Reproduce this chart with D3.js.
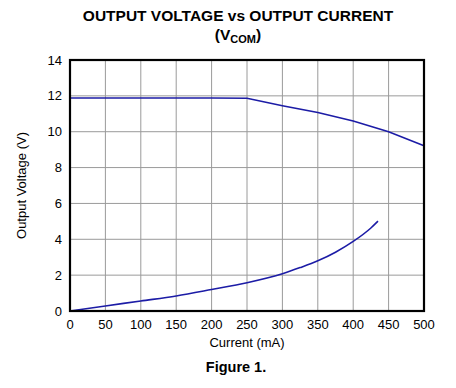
<!DOCTYPE html>
<html>
<head>
<meta charset="utf-8">
<script src="https://cdn.jsdelivr.net/npm/d3@7"></script>
<style>
  body { margin: 0; background: #fff; }
  text { font-family: "Liberation Sans", Arial, sans-serif; }
</style>
</head>
<body>
<svg width="456" height="388"></svg>
<script>
// current (mA) and output voltage (V)
var upperCurrent = [0, 50, 100, 150, 200, 250, 300, 350, 400, 450, 500];
var upperVoltage = [11.88, 11.88, 11.88, 11.88, 11.88, 11.87, 11.45, 11.07, 10.6, 10.0, 9.22];
var lowerCurrent = [0, 50, 100, 150, 200, 250, 300, 325, 350, 375, 400, 425, 435];
var lowerVoltage = [0, 0.28, 0.56, 0.84, 1.2, 1.58, 2.08, 2.42, 2.8, 3.28, 3.88, 4.63, 5.01];
var xTicks = [0, 50, 100, 150, 200, 250, 300, 350, 400, 450, 500];
var yTicks = [0, 2, 4, 6, 8, 10, 12, 14];

(function () {
    var svg = d3.select("svg");
    var plotLeft = 70, plotRight = 424, plotTop = 60, plotBottom = 311;

    var x = d3.scaleLinear().domain([0, 500]).range([plotLeft, plotRight]);
    var y = d3.scaleLinear().domain([0, 14]).range([plotBottom, plotTop]);

    // grid
    svg.selectAll(".vgrid").data(xTicks).enter().append("line")
        .attr("x1", function (d) { return x(d); })
        .attr("x2", function (d) { return x(d); })
        .attr("y1", plotTop).attr("y2", plotBottom)
        .attr("stroke", "#9a9a9a").attr("stroke-width", 1);
    svg.selectAll(".hgrid").data(yTicks).enter().append("line")
        .attr("y1", function (d) { return y(d); })
        .attr("y2", function (d) { return y(d); })
        .attr("x1", plotLeft).attr("x2", plotRight)
        .attr("stroke", "#9a9a9a").attr("stroke-width", 1);

    // curves
    var upperLine = d3.line()
        .x(function (d) { return x(d[0]); })
        .y(function (d) { return y(d[1]); });
    var lowerLine = d3.line()
        .x(function (d) { return x(d[0]); })
        .y(function (d) { return y(d[1]); })
        .curve(d3.curveMonotoneX);

    svg.append("path")
        .datum(d3.zip(upperCurrent, upperVoltage))
        .attr("d", upperLine)
        .attr("fill", "none").attr("stroke", "#1c1ca6").attr("stroke-width", 1.6);
    svg.append("path")
        .datum(d3.zip(lowerCurrent, lowerVoltage))
        .attr("d", lowerLine)
        .attr("fill", "none").attr("stroke", "#1c1ca6").attr("stroke-width", 1.6);

    // frame
    svg.append("rect")
        .attr("x", plotLeft).attr("y", plotTop)
        .attr("width", plotRight - plotLeft).attr("height", plotBottom - plotTop)
        .attr("fill", "none").attr("stroke", "#000").attr("stroke-width", 2.2);

    // tick labels
    svg.selectAll(".xl").data(xTicks).enter().append("text")
        .attr("x", function (d) { return x(d); })
        .attr("y", 329)
        .attr("text-anchor", "middle")
        .attr("font-size", 13)
        .text(function (d) { return d; });
    svg.selectAll(".yl").data(yTicks).enter().append("text")
        .attr("x", 62)
        .attr("y", function (d) { return y(d) + 4.5; })
        .attr("text-anchor", "end")
        .attr("font-size", 13)
        .text(function (d) { return d; });

    // axis titles
    svg.append("text")
        .attr("x", 247).attr("y", 347)
        .attr("text-anchor", "middle").attr("font-size", 13)
        .text("Current (mA)");
    svg.append("text")
        .attr("transform", "translate(26," + ((plotTop + plotBottom) / 2) + ") rotate(-90)")
        .attr("text-anchor", "middle").attr("font-size", 13)
        .text("Output Voltage (V)");

    // titles
    svg.append("text")
        .attr("x", 238).attr("y", 21)
        .attr("text-anchor", "middle").attr("font-size", 15.5).attr("font-weight", "bold")
        .text("OUTPUT VOLTAGE vs OUTPUT CURRENT");
    var sub = svg.append("text")
        .attr("x", 238).attr("y", 40)
        .attr("text-anchor", "middle").attr("font-size", 15.5).attr("font-weight", "bold");
    sub.append("tspan").text("(V");
    sub.append("tspan").attr("font-size", 11).attr("dy", 3).text("COM");
    sub.append("tspan").attr("dy", -3).text(")");

    svg.append("text")
        .attr("x", 236).attr("y", 372)
        .attr("text-anchor", "middle").attr("font-size", 14.5).attr("font-weight", "bold")
        .text("Figure 1.");
})();
</script>
</body>
</html>
